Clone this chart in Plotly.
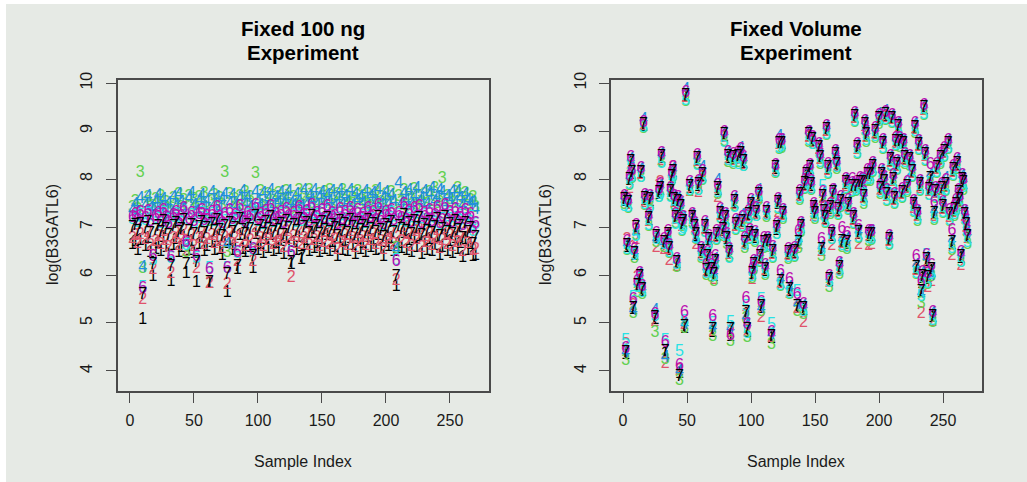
import plotly.graph_objects as go

series_labels = ["1", "2", "3", "4", "5", "6", "7"]
series_colors = ["#000000", "#DF536B", "#61D04F", "#1F90DC", "#28E2E5", "#BC0CB0", "#000000"]
x_ticks = [0, 50, 100, 150, 200, 250]
y_ticks = [4, 5, 6, 7, 8, 9, 10]

left_idx = list(range(2, 272, 2))
left_1 = [
 6.62,6.68,6.50,6.70,5.06,6.58,6.74,6.45,5.96,6.52,6.65,6.48,6.78,6.56,6.42,
 5.86,6.60,6.72,6.46,6.57,6.80,6.03,6.50,6.68,6.44,5.83,6.62,6.75,6.48,6.58,
 5.82,6.66,6.50,6.78,6.53,6.40,6.64,5.62,6.70,6.49,6.60,6.10,6.82,6.52,6.45,
 6.65,6.56,6.12,6.84,6.50,6.62,6.44,6.73,6.54,6.82,6.48,6.64,6.53,6.68,6.42,
 6.76,6.57,6.20,6.66,6.50,6.78,6.31,6.60,6.70,6.47,6.86,6.54,6.64,6.45,6.73,
 6.52,6.82,6.48,6.66,6.57,6.38,6.75,6.51,6.68,6.47,6.76,6.60,6.42,6.72,6.53,
 6.64,6.46,6.77,6.56,6.70,6.49,6.82,6.52,6.38,6.67,6.58,6.74,6.48,5.75,6.65,
 6.54,6.85,6.50,6.70,6.45,6.75,6.57,6.80,6.42,6.66,6.51,6.73,6.47,6.60,6.78,
 6.40,6.56,6.82,6.48,6.68,6.44,6.74,6.52,6.64,6.36,6.72,6.50,6.62,6.38,6.40]
left_2 = [
 6.76,6.82,6.64,6.84,5.48,6.72,6.87,6.60,6.10,6.68,6.80,6.62,6.90,6.70,6.56,
 6.03,6.76,6.85,6.60,6.72,6.92,6.48,6.66,6.82,6.58,6.12,6.75,6.88,6.62,6.72,
 5.81,6.82,6.64,6.92,6.68,6.54,6.78,5.79,6.86,6.62,6.74,6.27,6.94,6.68,6.58,
 6.80,6.70,6.27,6.98,6.66,6.76,6.58,6.86,6.70,6.96,6.62,6.78,6.68,6.84,6.56,
 6.90,6.72,5.94,6.80,6.64,6.92,6.62,6.74,6.84,6.60,6.98,6.70,6.78,6.58,6.88,
 6.66,6.94,6.62,6.80,6.72,6.52,6.88,6.66,6.82,6.60,6.90,6.74,6.56,6.86,6.68,
 6.78,6.60,6.90,6.70,6.84,6.62,6.96,6.68,6.52,6.80,6.72,6.88,6.62,5.87,6.78,
 6.68,6.98,6.64,6.84,6.58,6.90,6.72,6.94,6.56,6.80,6.66,6.86,6.60,6.74,6.92,
 6.54,6.70,6.96,6.62,6.82,6.58,6.88,6.66,6.78,6.48,6.86,6.64,6.74,6.50,6.52]
left_3 = [
 7.40,7.52,7.36,8.13,6.12,7.48,7.60,7.34,7.42,7.56,7.46,7.62,7.38,7.50,7.36,
 7.30,7.58,7.44,7.66,7.40,7.54,6.46,7.62,7.42,7.56,7.36,7.60,7.46,7.68,7.38,
 7.10,7.52,7.64,7.40,7.58,7.44,8.13,6.46,7.66,7.48,7.56,7.38,7.62,7.44,7.70,
 7.50,7.60,7.30,8.10,7.46,7.72,7.42,7.58,7.66,7.40,7.62,7.50,7.68,7.44,7.56,
 7.72,7.46,7.35,7.60,7.42,7.74,7.44,7.64,7.50,7.76,7.48,7.58,7.42,7.66,7.46,
 7.70,7.52,7.76,7.44,7.60,7.66,7.48,7.74,7.52,7.60,7.44,7.68,7.56,7.72,7.46,
 7.62,7.50,7.66,7.42,7.58,7.72,7.48,7.60,7.44,7.66,7.52,7.70,7.46,6.55,7.62,
 7.50,7.74,7.42,7.64,7.54,7.78,7.44,7.60,7.50,7.66,7.46,7.70,7.52,7.80,7.48,
 7.60,8.00,7.44,7.62,7.56,7.48,7.70,7.80,7.50,7.58,7.68,7.42,7.54,7.60,7.40]
left_4 = [
 7.34,7.46,7.30,7.58,6.14,7.44,7.62,7.38,7.36,7.52,7.64,7.40,7.56,7.34,7.48,
 7.26,7.60,7.42,7.66,7.50,7.38,6.62,7.58,7.68,7.44,7.32,7.54,7.64,7.40,7.52,
 7.12,7.70,7.46,7.60,7.38,7.56,7.66,6.62,7.48,7.64,7.42,7.28,7.58,7.72,7.46,
 7.60,7.40,7.34,7.70,7.52,7.44,7.68,7.38,7.56,7.74,7.42,7.60,7.50,7.70,7.46,
 7.58,7.72,7.48,7.44,7.66,7.52,7.42,7.76,7.46,7.62,7.54,7.74,7.44,7.60,7.70,
 7.48,7.64,7.52,7.72,7.42,7.58,7.76,7.46,7.62,7.50,7.74,7.44,7.66,7.54,7.60,
 7.48,7.72,7.42,7.62,7.68,7.50,7.78,7.44,7.58,7.70,7.46,7.64,7.52,6.53,7.90,
 7.48,7.68,7.54,7.74,7.44,7.62,7.80,7.50,7.58,7.72,7.46,7.66,7.80,7.52,7.60,
 7.74,7.70,7.46,7.62,7.56,7.72,7.50,7.73,7.58,7.44,7.66,7.54,7.48,7.50,7.36]
left_5 = [
 7.14,7.20,7.08,7.22,5.72,7.12,7.26,7.10,6.30,7.16,7.24,7.06,7.28,7.12,7.04,
 6.33,7.18,7.26,7.10,7.16,7.30,6.60,7.12,7.22,7.06,6.34,7.16,7.28,7.08,7.14,
 6.12,7.24,7.10,7.30,7.14,7.02,7.20,6.12,7.26,7.10,7.18,6.44,7.32,7.12,7.06,
 7.22,7.14,6.50,7.30,7.10,7.20,7.04,7.24,7.14,7.32,7.08,7.22,7.12,7.26,7.06,
 7.28,7.16,6.46,7.20,7.08,7.32,7.10,7.18,7.26,7.08,7.34,7.14,7.22,7.06,7.26,
 7.12,7.32,7.08,7.22,7.14,7.02,7.28,7.10,7.24,7.08,7.30,7.18,7.04,7.26,7.12,
 7.20,7.06,7.30,7.14,7.24,7.10,7.34,7.12,7.02,7.24,7.16,7.28,7.08,6.30,7.22,
 7.12,7.36,7.08,7.24,7.06,7.30,7.14,7.32,7.04,7.22,7.10,7.26,7.08,7.16,7.30,
 7.04,7.14,7.34,7.08,7.24,7.06,7.28,7.12,7.20,7.02,7.26,7.10,7.18,6.90,7.04]
left_6 = [
 7.18,7.26,7.12,7.30,5.70,7.16,7.32,7.10,6.37,7.20,7.28,7.08,7.34,7.18,7.06,
 6.35,7.22,7.30,7.12,7.20,7.38,6.67,7.14,7.28,7.10,6.37,7.24,7.34,7.12,7.20,
 6.10,7.30,7.14,7.40,7.18,7.06,7.26,6.12,7.34,7.14,7.22,6.45,7.42,7.16,7.08,
 7.28,7.20,6.52,7.44,7.14,7.24,7.08,7.32,7.18,7.42,7.12,7.26,7.16,7.30,7.06,
 7.36,7.20,6.45,7.28,7.12,7.40,7.14,7.22,7.32,7.10,7.44,7.18,7.28,7.08,7.34,
 7.16,7.42,7.12,7.28,7.20,7.04,7.36,7.14,7.30,7.10,7.38,7.22,7.08,7.34,7.16,
 7.26,7.10,7.38,7.18,7.30,7.12,7.44,7.16,7.04,7.30,7.20,7.34,7.12,6.27,7.28,
 7.16,7.46,7.12,7.32,7.08,7.38,7.18,7.42,7.06,7.28,7.14,7.34,7.10,7.22,7.40,
 7.06,7.20,7.44,7.12,7.30,7.08,7.36,7.16,7.26,7.02,7.34,7.14,7.24,6.96,7.06]
left_7 = [
 6.98,7.02,6.90,7.05,5.58,6.95,7.08,6.85,6.20,6.92,7.00,6.88,7.10,6.93,6.82,
 6.17,6.99,7.06,6.87,6.94,7.12,6.20,6.90,7.03,6.84,6.25,6.97,7.09,6.86,6.95,
 5.83,7.04,6.89,7.13,6.92,6.80,7.01,6.00,7.07,6.88,6.96,6.17,7.15,6.91,6.84,
 7.02,6.94,6.38,7.20,6.90,6.99,6.83,7.08,6.93,7.18,6.87,7.00,6.92,7.05,6.81,
 7.11,6.95,6.25,7.03,6.89,7.14,6.35,6.97,7.06,6.86,7.21,6.93,7.00,6.84,7.09,
 6.91,7.17,6.88,7.02,6.95,6.79,7.10,6.90,7.04,6.86,7.12,6.97,6.82,7.07,6.92,
 7.00,6.85,7.13,6.94,7.05,6.88,7.18,6.91,6.78,7.03,6.96,7.09,6.87,5.96,7.01,
 6.93,7.22,6.89,7.06,6.84,7.11,6.95,7.16,6.81,7.02,6.90,7.08,6.86,6.98,7.14,
 6.80,6.94,7.19,6.87,7.04,6.83,7.10,6.92,7.00,6.76,7.07,6.88,6.96,6.62,6.78]

right_idx = [
 1,2,3,4,5,6,7,8,9,10,
 11,13,14,15,16,17,20,21,25,26,
 28,29,30,32,33,35,36,37,38,39,
 40,41,42,43,44,45,46,47,48,49,
 52,54,56,57,58,59,61,62,64,65,
 66,67,69,70,71,72,73,74,76,78,
 79,80,81,82,83,84,86,87,88,90,
 92,93,94,95,96,97,98,99,100,101,
 102,103,104,106,107,108,110,111,112,113,
 116,117,119,120,121,122,123,124,125,129,
 130,134,136,137,138,139,141,142,143,145,
 146,147,148,149,150,153,154,155,156,157,
 158,159,160,161,162,163,164,166,167,168,
 169,170,171,174,175,176,179,180,181,182,
 183,184,185,187,188,189,190,191,192,193,
 194,195,197,200,201,202,203,204,205,206,
 208,209,210,211,212,213,214,215,216,218,
 219,220,222,224,226,227,228,229,230,231,
 232,233,234,235,236,237,238,239,240,241,
 242,243,244,245,248,249,250,251,252,254,
 255,257,258,259,260,261,262,263,264,265,
 266,267,268,269]
right_7 = [
 7.56,4.37,6.61,7.49,7.98,8.36,8.12,5.30,6.43,6.97,
 5.78,5.96,8.13,5.68,9.12,7.58,7.16,7.56,5.10,6.80,
 7.70,7.80,8.46,6.66,4.40,6.83,6.55,7.73,8.05,8.15,
 7.56,7.18,6.25,7.53,3.88,7.42,7.04,7.11,4.92,9.73,
 7.84,7.18,7.00,6.83,8.41,7.87,6.48,8.08,7.00,6.09,
 6.38,6.73,6.10,4.85,6.00,6.28,6.83,7.80,7.28,6.93,
 8.91,7.18,6.76,8.46,6.45,4.85,8.43,7.52,7.04,8.46,
 8.53,7.11,8.36,6.66,5.20,4.85,7.25,6.85,7.46,6.03,
 6.20,6.80,7.30,7.66,6.38,5.34,6.66,6.10,7.30,6.69,
 4.71,6.48,8.22,6.97,7.49,8.74,5.86,8.74,7.28,6.45,
 5.68,6.48,5.34,6.66,7.66,7.00,5.30,7.90,8.08,8.91,
 8.22,7.87,8.81,7.39,7.28,8.64,8.43,6.52,7.63,7.32,
 7.18,9.02,8.22,5.89,7.39,6.83,7.70,8.50,8.30,7.35,
 6.14,7.53,6.69,7.91,6.66,7.46,7.84,7.18,9.30,7.84,
 8.64,6.87,7.91,7.91,7.63,9.12,8.91,8.08,6.83,8.08,
 6.83,8.24,8.98,9.26,7.80,8.08,8.74,7.94,9.33,7.66,
 6.73,8.39,9.26,7.98,7.59,8.78,8.29,9.09,8.78,7.71,
 8.74,8.43,7.84,8.39,8.15,7.45,9.07,6.14,7.25,8.71,
 7.87,5.65,5.96,9.47,8.50,6.31,5.93,7.77,8.01,6.10,
 5.13,7.28,7.73,8.22,8.43,7.80,7.42,8.57,7.87,8.74,
 7.25,6.66,8.18,7.35,7.46,8.32,7.70,7.56,6.38,7.98,
 7.91,7.25,7.04,6.80]
right_6 = [
 7.62,4.45,6.68,7.55,8.05,8.44,8.17,5.48,6.52,7.03,
 5.86,6.02,8.20,5.76,9.17,7.65,7.23,7.62,5.17,6.86,
 7.78,7.88,8.52,6.72,4.58,6.90,6.60,7.80,8.12,8.22,
 7.62,7.25,6.32,7.60,4.10,7.50,7.12,7.18,5.20,9.80,
 7.92,7.26,7.06,6.90,8.48,7.94,6.55,8.14,7.08,6.18,
 6.46,6.80,6.18,5.12,6.10,6.38,6.90,7.86,7.36,7.00,
 8.96,7.26,6.84,8.54,6.52,4.72,8.50,7.60,7.12,8.54,
 8.60,7.18,8.44,6.74,5.50,4.95,7.32,6.92,7.54,6.10,
 6.28,6.88,7.38,7.72,6.46,5.42,6.74,6.18,7.38,6.76,
 4.80,6.56,8.28,7.04,7.56,8.80,6.07,8.80,7.34,6.52,
 5.90,6.54,5.58,6.90,7.72,7.06,5.38,7.96,8.14,8.96,
 8.28,7.94,8.86,7.46,7.36,8.70,8.50,6.72,7.70,7.40,
 7.26,9.08,8.30,5.96,7.46,6.90,7.76,8.56,8.36,7.42,
 6.22,7.60,6.96,7.98,6.86,7.54,7.98,7.26,9.36,7.92,
 8.70,7.00,8.00,7.98,7.70,9.18,8.98,8.16,6.90,8.16,
 6.90,8.32,9.04,9.32,7.86,8.16,8.80,8.02,9.38,7.74,
 6.80,8.46,9.32,8.06,7.66,8.84,8.36,9.14,8.84,7.78,
 8.80,8.50,7.92,8.46,8.22,7.52,9.14,6.38,7.32,8.78,
 7.94,5.86,6.04,9.52,8.56,6.40,6.02,7.84,8.30,6.18,
 5.20,7.50,7.80,8.30,8.50,7.88,7.50,8.62,7.95,8.80,
 7.34,6.92,8.26,7.42,7.54,8.40,7.76,7.62,6.46,8.06,
 7.98,7.32,7.12,6.90]
right_5 = [
 7.42,4.62,6.52,7.40,7.88,8.28,8.02,5.52,6.40,6.80,
 5.72,5.90,8.02,5.62,9.06,7.46,7.02,7.40,5.12,6.72,
 7.60,7.66,8.32,6.62,4.62,6.75,6.46,7.60,7.96,8.04,
 7.42,7.04,6.20,7.42,4.40,7.30,6.92,6.96,5.02,9.62,
 7.74,7.04,6.92,6.76,8.28,7.74,6.38,7.98,6.88,6.02,
 6.30,6.62,6.02,4.98,5.96,6.18,6.72,7.70,7.16,6.84,
 8.76,7.06,6.68,8.38,6.34,5.00,8.34,7.40,6.94,8.30,
 8.44,7.00,8.26,6.60,5.34,4.78,7.16,6.76,7.34,5.96,
 6.14,6.70,7.20,7.60,6.28,5.48,6.56,6.02,7.22,6.60,
 4.95,6.36,8.12,6.84,7.38,8.62,5.78,8.66,7.18,6.36,
 5.60,6.38,5.65,6.72,7.58,6.92,5.22,7.80,7.98,8.80,
 8.12,7.78,8.70,7.28,7.18,8.54,8.34,6.50,7.84,7.22,
 7.08,8.92,8.10,5.84,7.30,6.72,7.62,8.42,8.22,7.24,
 6.06,7.42,6.60,7.80,6.56,7.36,7.72,7.06,9.18,7.74,
 8.52,6.78,7.80,7.82,7.52,9.00,8.80,7.98,6.74,7.98,
 6.72,8.14,8.88,9.18,7.70,7.96,8.62,7.84,9.24,7.54,
 6.62,8.28,9.16,7.86,7.48,8.68,8.18,9.00,8.70,7.60,
 8.62,8.34,7.74,8.30,8.04,7.32,8.98,6.02,7.14,8.60,
 7.76,5.55,5.84,9.34,8.38,6.40,5.82,7.64,7.90,6.00,
 5.04,7.16,7.60,8.12,8.34,7.68,7.30,8.46,7.76,8.62,
 7.12,6.54,8.06,7.26,7.34,8.20,7.60,7.46,6.26,7.88,
 7.82,7.14,6.92,6.66]
right_4 = [
 7.60,4.38,6.63,7.53,8.02,8.40,8.18,5.26,6.46,6.85,
 5.82,6.00,8.18,5.70,9.22,7.62,7.20,7.60,5.24,6.72,
 7.74,7.84,8.50,6.64,4.28,6.72,6.58,7.78,8.08,8.18,
 7.60,7.22,6.28,7.57,3.98,7.46,7.08,7.16,4.96,9.86,
 7.88,7.22,7.04,6.70,8.44,7.96,6.50,8.22,7.04,6.12,
 6.42,6.70,6.16,4.90,6.04,6.32,6.86,7.95,7.32,6.98,
 8.94,7.22,6.80,8.52,6.50,4.88,8.46,7.56,7.10,8.50,
 8.62,7.22,8.40,6.76,5.10,4.95,7.28,6.88,7.50,6.06,
 6.26,6.84,7.36,7.76,6.42,5.30,6.70,6.14,7.34,6.72,
 4.75,6.52,8.26,7.00,7.54,8.88,5.90,8.80,7.32,6.48,
 5.72,6.52,5.38,6.70,7.70,7.04,5.34,7.94,8.12,8.96,
 8.26,7.90,8.84,7.42,7.32,8.68,8.46,6.56,7.66,7.36,
 7.22,9.06,8.26,5.92,7.44,6.86,7.74,8.54,8.34,7.40,
 6.20,7.56,6.72,7.96,6.72,7.50,7.90,7.22,9.34,7.90,
 8.68,6.90,7.98,7.96,7.66,9.16,8.96,8.14,6.90,8.14,
 6.90,8.30,9.02,9.34,7.84,8.14,8.78,8.00,9.40,7.72,
 6.78,8.44,9.30,8.04,7.64,8.82,8.34,9.14,8.82,7.76,
 8.78,8.48,7.96,8.44,8.20,7.50,9.12,6.18,7.30,8.76,
 7.92,5.60,6.02,9.50,8.54,6.34,5.98,7.82,8.06,5.98,
 5.18,7.32,7.78,8.28,8.48,7.90,7.50,8.60,8.00,8.78,
 7.30,6.70,8.24,7.40,7.52,8.38,7.74,7.60,6.42,8.04,
 7.96,7.30,7.10,6.86]
right_3 = [
 7.45,4.20,6.50,7.38,7.85,8.24,8.00,5.18,6.33,6.82,
 5.62,5.84,8.02,5.58,9.04,7.44,7.00,7.42,4.80,6.66,
 7.60,7.70,8.34,6.56,4.22,6.70,6.44,7.62,7.94,8.02,
 7.44,7.06,6.14,7.40,3.80,7.32,6.90,7.00,4.88,9.60,
 7.72,7.06,6.90,6.72,8.30,7.76,6.34,7.96,6.88,5.98,
 6.26,6.60,5.94,4.70,5.86,6.16,6.70,7.66,7.16,6.80,
 8.78,7.04,6.62,8.34,6.36,4.60,8.30,7.42,6.92,8.34,
 8.42,6.98,8.24,6.54,5.08,4.68,7.14,6.72,7.34,5.92,
 6.08,6.66,7.20,7.54,6.26,5.22,6.54,5.98,7.18,6.56,
 4.54,6.34,8.10,6.84,7.36,8.60,5.76,8.62,7.14,6.32,
 5.58,6.36,5.22,6.54,7.54,6.88,5.16,7.78,7.96,8.76,
 8.10,7.74,8.70,7.26,7.14,8.52,8.30,6.38,7.50,7.20,
 7.06,8.90,8.08,5.72,7.26,6.72,7.58,8.38,8.18,7.22,
 6.00,7.40,6.56,7.78,6.52,7.34,7.70,7.04,9.16,7.72,
 8.50,6.74,7.78,7.76,7.46,8.98,8.76,7.94,6.68,7.94,
 6.70,8.12,8.84,9.12,7.66,7.94,8.60,7.82,9.20,7.52,
 6.60,8.26,9.14,7.84,7.46,8.66,8.16,8.96,8.64,7.58,
 8.60,8.30,7.70,8.26,8.02,7.30,8.94,6.00,7.10,8.58,
 7.72,5.40,5.80,9.32,8.36,6.18,5.80,7.64,7.88,5.96,
 5.00,7.12,7.58,8.10,8.30,7.66,7.28,8.44,7.72,8.60,
 7.10,6.50,8.04,7.20,7.32,8.18,7.56,7.42,6.24,7.84,
 7.76,7.12,6.88,6.62]
right_2 = [
 7.58,4.55,6.72,7.46,7.80,8.30,8.05,5.35,6.58,6.72,
 5.94,5.80,8.08,5.70,9.10,7.50,7.10,7.48,5.02,6.56,
 7.86,7.92,8.38,6.52,4.15,6.54,6.30,7.76,8.10,8.22,
 7.50,7.14,6.16,7.46,4.00,7.36,7.00,7.04,4.96,9.68,
 7.72,7.20,6.96,6.62,8.36,7.70,6.40,8.02,6.94,6.04,
 6.30,6.54,6.08,4.82,5.90,6.20,6.78,7.60,7.22,6.86,
 8.86,7.12,6.78,8.38,6.42,4.80,8.38,7.46,7.00,8.40,
 8.50,7.04,8.30,6.62,5.14,4.82,7.20,6.80,7.40,5.90,
 6.14,6.78,7.26,7.58,6.32,5.10,6.62,6.08,7.24,6.66,
 4.68,6.42,8.14,6.96,7.30,8.70,5.82,8.70,7.22,6.40,
 5.60,6.42,5.30,6.62,7.62,6.96,5.00,7.84,8.00,8.86,
 8.14,7.80,8.76,7.20,7.24,8.60,8.40,6.48,7.58,7.26,
 7.12,8.98,8.16,5.84,7.32,6.60,7.66,8.46,8.26,7.30,
 6.08,7.48,6.64,7.84,6.58,7.40,7.80,7.12,9.26,7.80,
 8.60,6.62,7.86,7.84,7.58,9.08,8.86,8.04,6.60,8.04,
 6.62,8.20,8.92,9.20,7.74,8.02,8.70,7.90,9.28,7.62,
 6.68,8.34,9.22,7.94,7.54,8.74,8.24,9.04,8.72,7.66,
 8.70,8.38,7.80,8.34,8.10,7.38,9.02,6.08,7.20,8.66,
 7.80,5.18,5.74,9.42,8.46,6.22,5.72,7.72,7.96,5.85,
 5.02,7.20,7.68,8.18,8.38,7.74,7.36,8.52,7.82,8.70,
 7.18,6.40,8.12,7.30,7.40,8.26,7.64,7.50,6.18,7.92,
 7.86,7.20,6.98,6.74]
right_1 = [
 7.52,4.33,6.56,7.45,7.95,8.32,8.08,5.27,6.40,6.93,
 5.74,5.92,8.10,5.64,9.08,7.54,7.12,7.52,5.06,6.76,
 7.66,7.76,8.42,6.62,4.36,6.80,6.50,7.70,8.00,8.12,
 7.52,7.14,6.22,7.50,3.94,7.38,7.00,7.08,4.88,9.70,
 7.80,7.14,6.96,6.80,8.38,7.84,6.44,8.04,6.96,6.06,
 6.34,6.70,6.06,4.80,5.96,6.24,6.80,7.76,7.24,6.90,
 8.88,7.14,6.72,8.42,6.42,4.70,8.40,7.48,7.00,8.42,
 8.50,7.08,8.32,6.62,5.16,4.80,7.22,6.80,7.42,6.00,
 6.16,6.76,7.26,7.62,6.34,5.30,6.62,6.06,7.26,6.66,
 4.67,6.44,8.18,6.92,7.46,8.70,5.82,8.70,7.24,6.42,
 5.64,6.44,5.30,6.62,7.62,6.96,5.26,7.86,8.04,8.88,
 8.18,7.84,8.78,7.36,7.24,8.60,8.40,6.48,7.60,7.28,
 7.14,8.98,8.18,5.86,7.36,6.80,7.66,8.46,8.26,7.32,
 6.10,7.50,6.66,7.88,6.62,7.42,7.80,7.14,9.26,7.80,
 8.60,6.84,7.88,7.88,7.60,9.08,8.88,8.04,6.80,8.04,
 6.80,8.20,8.94,9.22,7.76,8.04,8.70,7.90,9.30,7.62,
 6.70,8.36,9.22,7.94,7.56,8.74,8.26,9.06,8.74,7.68,
 8.70,8.40,7.80,8.36,8.12,7.42,9.04,6.10,7.22,8.68,
 7.84,5.62,5.92,9.44,8.46,6.28,5.90,7.74,7.98,6.06,
 5.10,7.24,7.70,8.18,8.40,7.76,7.38,8.54,7.84,8.70,
 7.22,6.62,8.14,7.32,7.42,8.28,7.66,7.52,6.34,7.94,
 7.88,7.22,7.00,6.76]

left_values = [left_1, left_2, left_3, left_4, left_5, left_6, left_7]
right_values = [right_1, right_2, right_3, right_4, right_5, right_6, right_7]

W, H = 1027, 482
BG = "#E6EAE5"
INK = "#1a1a1a"
LINE = "#4a4a4a"
FONT = "Liberation Sans, Arial, sans-serif"

fig = go.Figure()
for xs, panel, ax in ((left_idx, left_values, ("x", "y")), (right_idx, right_values, ("x2", "y2"))):
    for lab, col, ys in zip(series_labels, series_colors, panel):
        fig.add_trace(go.Scatter(
            x=xs, y=ys, mode="text", text=[lab] * len(xs),
            textposition="middle center",
            textfont=dict(family=FONT, size=16, color=col),
            xaxis=ax[0], yaxis=ax[1], hoverinfo="skip", showlegend=False, cliponaxis=False))

def xaxis(x0, x1, x_lo, x_hi):
    return dict(domain=[x0 / W, x1 / W], range=[x_lo, x_hi], tickmode="array", tickvals=x_ticks,
                ticks="outside", ticklen=10, tickwidth=1.2, tickcolor=LINE, showgrid=False, zeroline=False,
                showline=True, linecolor=LINE, linewidth=1.6, mirror=True, automargin=False,
                tickfont=dict(family=FONT, size=16, color=INK), ticklabelstandoff=4)

def yaxis():
    return dict(domain=[1 - 391 / H, 1 - 80 / H], range=[3.583, 10.063], tickmode="array", tickvals=y_ticks,
                ticks="outside", ticklen=10, tickwidth=1.2, tickcolor=LINE, showgrid=False, zeroline=False,
                showline=True, linecolor=LINE, linewidth=1.6, mirror=True, tickangle=-90, automargin=False,
                tickfont=dict(family=FONT, size=16, color=INK), ticklabelstandoff=7)

def note(text, px, py, size, bold=False, angle=0):
    return dict(text=("<b>%s</b>" % text) if bold else text, x=px / W, y=1 - py / H, xref="paper", yref="paper",
                showarrow=False, xanchor="center", yanchor="middle", textangle=angle,
                font=dict(family=FONT, size=size, color="#000000" if bold else INK))

annotations = [
    note("Fixed 100 ng", 303, 28, 20.5, True), note("Experiment", 303, 52, 20.5, True),
    note("Fixed Volume", 796, 28, 20.5, True), note("Experiment", 796, 52, 20.5, True),
    note("Sample Index", 303, 461, 16), note("Sample Index", 796, 461, 16),
    note("log(B3GATL6)", 52, 235, 16, angle=-90), note("log(B3GATL6)", 545, 235, 16, angle=-90),
]

fig.update_layout(
    width=W, height=H, autosize=False, margin=dict(l=0, r=0, t=0, b=0),
    paper_bgcolor="#FFFFFF", plot_bgcolor=BG,
    xaxis=xaxis(117.5, 489, -9.76, 280.5), yaxis=yaxis(),
    xaxis2=dict(xaxis(611, 981.7, -9.4, 280.2), anchor="y2"),
    yaxis2=dict(yaxis(), anchor="x2"),
    annotations=annotations,
    shapes=[dict(type="rect", xref="paper", yref="paper", x0=6 / W, x1=1, y0=0, y1=1 - 4 / H,
                 fillcolor=BG, line=dict(width=0), layer="below")],
)
fig.write_html("out.html", config=dict(displayModeBar=False), post_script="document.body.style.margin='0';document.body.style.overflow='hidden';")
